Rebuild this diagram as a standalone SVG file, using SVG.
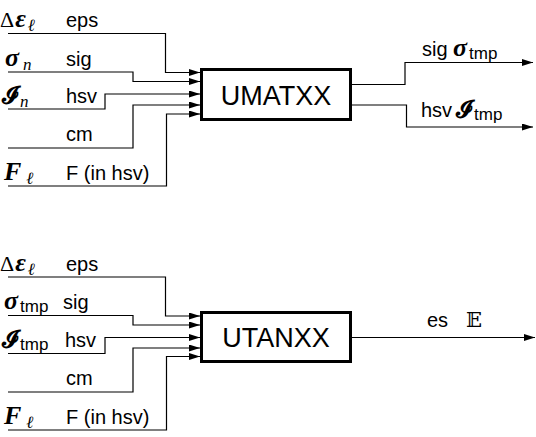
<svg xmlns="http://www.w3.org/2000/svg" width="536" height="437" viewBox="0 0 536 437">
<style>
.lbl{font-family:"Liberation Sans",Arial,sans-serif;font-size:20px;fill:#000}
.box{font-family:"Liberation Sans",Arial,sans-serif;font-size:27px;fill:#000;text-anchor:middle}
.m{font-family:"Liberation Serif","DejaVu Serif",serif;font-size:22px;fill:#000}
.bi{font-weight:bold;font-style:italic;font-size:26px}
.sub{font-family:"Liberation Serif","DejaVu Serif",serif;font-size:17px;font-style:italic}
.tmp{font-family:"Liberation Sans",Arial,sans-serif;font-size:17px;font-style:normal;font-weight:normal}
.cal{font-family:"DejaVu Sans","DejaVu Serif",serif;font-weight:bold;font-size:23px}
.w{fill:none;stroke:#000;stroke-width:1.2}
.frame{fill:#fff;stroke:#000;stroke-width:3}
</style>
<defs>
<marker id="ah" markerUnits="userSpaceOnUse" markerWidth="12" markerHeight="8" refX="11" refY="3.5" orient="auto">
<path d="M0,0 L11,3.5 L0,7 z" fill="#000"/>
</marker>
</defs>

<g id="connectors">
<polyline class="w" points="8,33.5 165.5,33.5 165.5,72.5 200,72.5" marker-end="url(#ah)"/>
<polyline class="w" points="8,72 133,72 133,81.5 200,81.5" marker-end="url(#ah)"/>
<polyline class="w" points="8,109 105,109 105,94 200,94" marker-end="url(#ah)"/>
<polyline class="w" points="8,148 133,148 133,105 200,105" marker-end="url(#ah)"/>
<polyline class="w" points="8,186 166.5,186 166.5,114 200,114" marker-end="url(#ah)"/>
<polyline class="w" points="352,84.5 405,84.5 405,62.5 533,62.5" marker-end="url(#ah)"/>
<polyline class="w" points="352,105 406.5,105 406.5,127 533,127" marker-end="url(#ah)"/>
<polyline class="w" points="8,277 165.5,277 165.5,316 200,316" marker-end="url(#ah)"/>
<polyline class="w" points="8,315.5 133,315.5 133,325 200,325" marker-end="url(#ah)"/>
<polyline class="w" points="8,353.5 105,353.5 105,337.5 200,337.5" marker-end="url(#ah)"/>
<polyline class="w" points="8,392 133,392 133,348 200,348" marker-end="url(#ah)"/>
<polyline class="w" points="8,430 166.5,430 166.5,356.5 200,356.5" marker-end="url(#ah)"/>
<line class="w" x1="352" y1="337.5" x2="535" y2="337.5" marker-end="url(#ah)"/>
</g>

<g id="umatxx">
<rect class="frame" x="201.5" y="69.5" width="149" height="50"/>
<text class="box" x="276" y="105">UMATXX</text>
</g>

<g id="utanxx">
<rect class="frame" x="201.5" y="312.5" width="149" height="49"/>
<text class="box" x="276" y="347">UTANXX</text>
</g>

<g id="labels-top">
<text class="m" x="0" y="27">Δ<tspan class="bi" dx="1">ε</tspan><tspan class="sub" dy="4" dx="2">ℓ</tspan></text>
<text class="lbl" x="66" y="27">eps</text>
<text class="m" x="5" y="66"><tspan class="bi">σ</tspan><tspan class="sub" dy="4" dx="4">n</tspan></text>
<text class="lbl" x="66" y="66">sig</text>
<text x="2" y="103"><tspan class="cal">𝓘</tspan><tspan class="sub" dy="4" dx="2">n</tspan></text>
<text class="lbl" x="66" y="103">hsv</text>
<text class="lbl" x="66" y="141">cm</text>
<text class="m" x="4" y="180"><tspan class="bi">F</tspan><tspan class="sub" dy="4" dx="5">ℓ</tspan></text>
<text class="lbl" x="66" y="180">F (in hsv)</text>
<text class="lbl" x="422" y="56">sig</text>
<text class="m" x="453" y="56"><tspan class="bi">σ</tspan><tspan class="tmp" dy="3" dx="2">tmp</tspan></text>
<text class="lbl" x="421" y="117">hsv</text>
<text x="456" y="117"><tspan class="cal">𝓘</tspan><tspan class="tmp" dy="3" dx="2">tmp</tspan></text>
</g>

<g id="labels-bottom">
<text class="m" x="0" y="271">Δ<tspan class="bi" dx="1">ε</tspan><tspan class="sub" dy="4" dx="2">ℓ</tspan></text>
<text class="lbl" x="66" y="271">eps</text>
<text class="m" x="4" y="309"><tspan class="bi">σ</tspan><tspan class="tmp" dy="3" dx="2">tmp</tspan></text>
<text class="lbl" x="63" y="309">sig</text>
<text x="2" y="347"><tspan class="cal">𝓘</tspan><tspan class="tmp" dy="3" dx="2">tmp</tspan></text>
<text class="lbl" x="65" y="347">hsv</text>
<text class="lbl" x="66" y="385">cm</text>
<text class="m" x="4" y="424"><tspan class="bi">F</tspan><tspan class="sub" dy="4" dx="5">ℓ</tspan></text>
<text class="lbl" x="66" y="424">F (in hsv)</text>
<text class="lbl" x="427" y="327">es</text>
<text x="466" y="327" style="font-family:'DejaVu Serif','DejaVu Sans',serif;font-size:21px">𝔼</text>
</g>
</svg>
